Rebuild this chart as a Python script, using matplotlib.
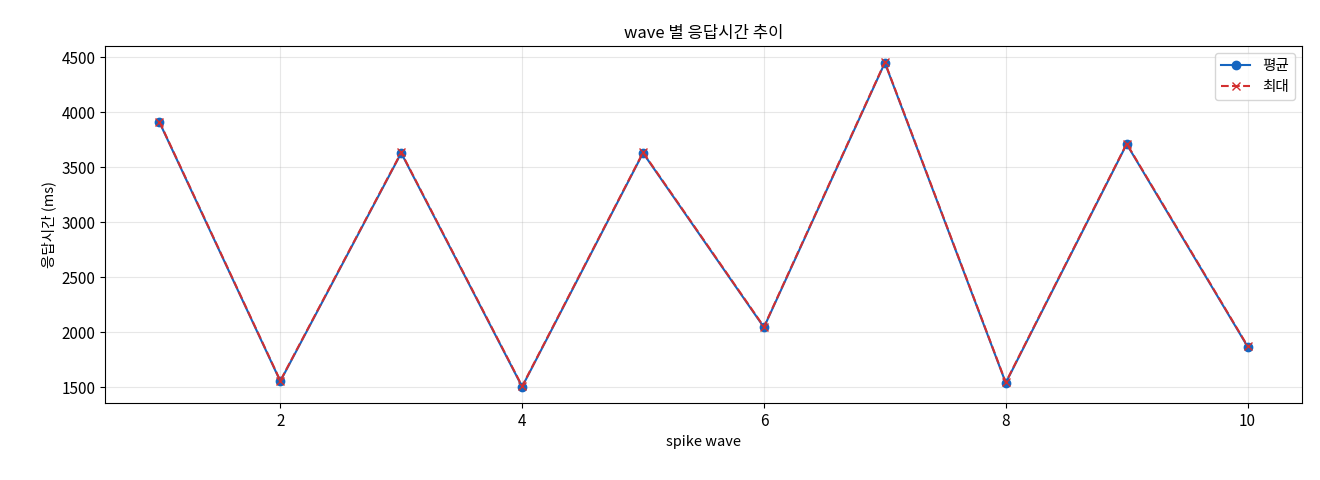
import matplotlib
matplotlib.use("Agg")
import matplotlib.pyplot as plt

plt.rcParams['font.family'] = ['Noto Sans CJK KR', 'DejaVu Sans']

waves = [1, 2, 3, 4, 5, 6, 7, 8, 9, 10]
avg = [3910, 1555, 3630, 1505, 3630, 2045, 4450, 1540, 3710, 1870]
mx = [3915, 1560, 3635, 1510, 3635, 2050, 4455, 1545, 3715, 1875]

fig = plt.figure(figsize=(13.2, 4.8), dpi=100)
ax = fig.add_axes([105/1320, 1-403/480, (1302-105)/1320, (403-46)/480])
ax.plot(waves, avg, marker='o', color='#1565C0', label='평균', markersize=6)
ax.plot(waves, mx, marker='x', linestyle='--', color='#D32F2F', label='최대', markersize=6)
ax.set_title('wave 별 응답시간 추이', fontsize=12)
ax.set_xlabel('spike wave', fontsize=10.5)
ax.set_ylabel('응답시간 (ms)', fontsize=10.5)
ax.tick_params(labelsize=11)
ax.grid(True, alpha=0.3)
ax.legend(loc='upper right', fontsize=10.5)
fig.savefig('out.png', dpi=100)
